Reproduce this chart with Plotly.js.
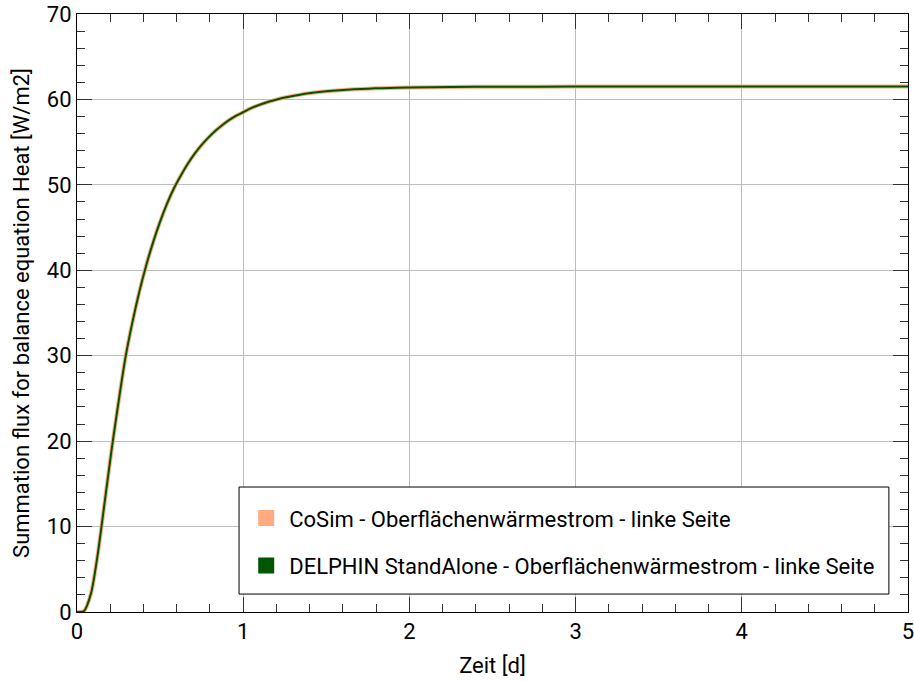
<!DOCTYPE html>
<html>
<head>
<meta charset="utf-8">
<script src="https://cdn.plot.ly/plotly-3.0.1.min.js"></script>
<style>html,body{margin:0;padding:0;background:#fff}#chart{width:914px;height:681px}</style>
</head>
<body>
<div id="chart"></div>
<script>
// Zeit [d]
const timeDays = [0, 0.0417, 0.0833, 0.125, 0.1667, 0.2083, 0.25, 0.2917, 0.3333, 0.375, 0.4167, 0.4583, 0.5, 0.5417, 0.5833, 0.625, 0.6667, 0.7083, 0.75, 0.7917, 0.8333, 0.875, 0.9167, 0.9583, 1.0, 1.0417, 1.0833, 1.125, 1.1667, 1.2083, 1.25, 1.3333, 1.4167, 1.5, 1.5833, 1.6667, 1.75, 1.8333, 2.0, 2.25, 2.5, 3.0, 3.5, 4.0, 4.5, 5.0];
// Summation flux [W/m2]
const cosimFlux = [0, 0.1, 2.1, 6.8, 12.9, 19.0, 24.6, 29.8, 33.9, 37.5, 40.6, 43.3, 45.7, 47.8, 49.6, 51.1, 52.47, 53.65, 54.67, 55.56, 56.33, 57.0, 57.6, 58.1, 58.5, 58.93, 59.26, 59.55, 59.81, 60.03, 60.22, 60.53, 60.77, 60.95, 61.08, 61.18, 61.26, 61.32, 61.4, 61.46, 61.48, 61.5, 61.5, 61.5, 61.5, 61.5];
const delphinFlux = [0, 0.1, 2.1, 6.8, 12.9, 19.0, 24.6, 29.8, 33.9, 37.5, 40.6, 43.3, 45.7, 47.8, 49.6, 51.1, 52.47, 53.65, 54.67, 55.56, 56.33, 57.0, 57.6, 58.1, 58.5, 58.93, 59.26, 59.55, 59.81, 60.03, 60.22, 60.53, 60.77, 60.95, 61.08, 61.18, 61.26, 61.32, 61.4, 61.46, 61.48, 61.5, 61.5, 61.5, 61.5, 61.5];
const seriesNames = ["CoSim - Oberflächenwärmestrom - linke Seite", "DELPHIN StandAlone - Oberflächenwärmestrom - linke Seite"];
const seriesColors = ["#ffaa80", "#005500"];

const FONT = "Roboto, 'Noto Sans', sans-serif";
const FS = 22;

const traces = [
  {x: timeDays, y: cosimFlux, mode: "lines", line: {color: seriesColors[0], width: 4, shape: "spline", smoothing: 0.8}, showlegend: false, hoverinfo: "skip"},
  {x: timeDays, y: delphinFlux, mode: "lines", line: {color: seriesColors[1], width: 2, shape: "spline", smoothing: 0.8}, showlegend: false, hoverinfo: "skip"},
  {x: [null], y: [null], mode: "markers", name: seriesNames[0], legendgroup: "a", marker: {symbol: "square", size: 18, color: seriesColors[0]}},
  {x: [null], y: [null], mode: "markers", name: seriesNames[1], legendgroup: "b", marker: {symbol: "square", size: 18, color: seriesColors[1]}}
];

const axisCommon = {
  showline: true, linecolor: "#000", linewidth: 1, mirror: "allticks",
  ticks: "inside", ticklen: 15, tickcolor: "#333", tickwidth: 1,
  showgrid: true, gridcolor: "#bdbdbd", gridwidth: 1,
  zeroline: false, ticklabeloverflow: "allow",
  tickfont: {family: FONT, size: FS, color: "#000"}
};

const layout = {
  width: 914, height: 681,
  margin: {l: 77, r: 6, t: 14, b: 69},
  paper_bgcolor: "#fff", plot_bgcolor: "#fff",
  font: {family: FONT, size: FS, color: "#000"},
  showlegend: true,
  legend: {
    x: 0.200, y: 0.192, xanchor: "left", yanchor: "top",
    bgcolor: "rgba(0,0,0,0)", borderwidth: 0,
    font: {family: FONT, size: FS, color: "#000"},
    tracegroupgap: 16, itemwidth: 36
  },
  shapes: [
    {type: "rect", xref: "paper", yref: "paper", x0: 0.195, x1: 0.977, y0: 0.030, y1: 0.209,
     fillcolor: "#fff", line: {color: "#000", width: 1}, layer: "above"}
  ],
  xaxis: Object.assign({}, axisCommon, {
    range: [0, 5], dtick: 1, tick0: 0,
    minor: {dtick: 0.2, ticks: "inside", ticklen: 8, tickcolor: "#333", showgrid: false},
    title: {text: "Zeit [d]", font: {family: FONT, size: FS, color: "#000"}, standoff: 14}
  }),
  yaxis: Object.assign({}, axisCommon, {
    range: [0, 70], dtick: 10, tick0: 0,
    minor: {dtick: 2, ticks: "inside", ticklen: 8, tickcolor: "#333", showgrid: false},
    title: {text: "Summation flux for balance equation Heat [W/m2]", font: {family: FONT, size: FS, color: "#000"}, standoff: 11}
  })
};

Plotly.newPlot("chart", traces, layout, {staticPlot: true, displayModeBar: false});
</script>
</body>
</html>
